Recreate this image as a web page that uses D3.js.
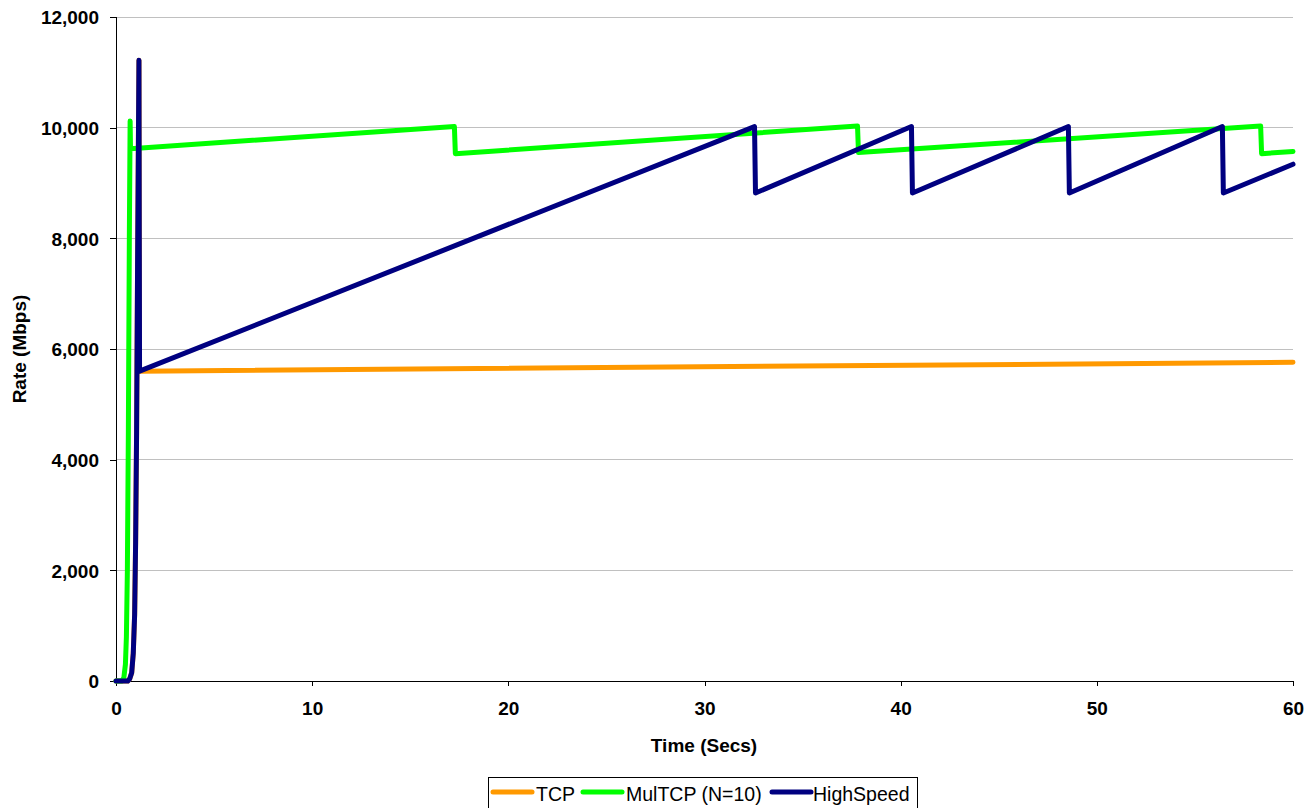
<!DOCTYPE html>
<html>
<head>
<meta charset="utf-8">
<script src="https://cdn.jsdelivr.net/npm/d3@7"></script>
<style>
  body { margin: 0; background: #fff; }
  svg { display: block; font-family: Arial, "Liberation Sans", sans-serif; }
</style>
</head>
<body>
<svg id="chart" width="1315" height="808"></svg>
<script>
// ---- Data (time in seconds, rate in Mbps) ----
const seriesNames = ["TCP", "MulTCP (N=10)", "HighSpeed"];

const tcpTime  = [0, 0.6, 0.7, 0.8, 0.88, 0.95, 1.0, 1.05, 1.1, 1.17, 1.2, 60];
const tcpRate  = [0, 0, 40, 150, 500, 1200, 2500, 4500, 7500, 11220, 5600, 5760];

const mulTime  = [0, 0.3, 0.4, 0.48, 0.53, 0.58, 0.63, 0.68, 0.72, 0.74, 17.25, 17.3, 37.8, 37.85, 58.35, 58.4, 60];
const mulRate  = [0, 0, 60, 300, 800, 2000, 4500, 8000, 10120, 9620, 10020, 9530, 10030, 9550, 10030, 9530, 9570];

const hsTime   = [0, 0.6, 0.7, 0.8, 0.88, 0.95, 1.0, 1.05, 1.1, 1.17, 1.2, 32.55, 32.6, 40.55, 40.6, 48.55, 48.6, 56.4, 56.45, 60];
const hsRate   = [0, 0, 40, 150, 500, 1200, 2500, 4500, 7500, 11220, 5600, 10020, 8820, 10020, 8820, 10020, 8820, 10020, 8820, 9340];

const xTicks = [0, 10, 20, 30, 40, 50, 60];
const yTicks = [0, 2000, 4000, 6000, 8000, 10000, 12000];
const colors = ["#FF9900", "#00FF00", "#000080"];

// ---- Layout ----
const svg = d3.select("#chart");
const pLeft = 116, pRight = 1293, pTop = 17, pBottom = 681;
const FONT = "Arial, 'Liberation Sans', sans-serif";

const x = d3.scaleLinear().domain([0, 60]).range([pLeft, pRight]);
const y = d3.scaleLinear().domain([0, 12000]).range([pBottom, pTop]);

// gridlines
svg.append("g")
  .selectAll("line")
  .data(yTicks.filter(d => d > 0))
  .join("line")
  .attr("x1", pLeft).attr("x2", pRight)
  .attr("y1", d => y(d)).attr("y2", d => y(d))
  .attr("stroke", "#c0c0c0").attr("stroke-width", 1)
  .attr("shape-rendering", "crispEdges");

// axes
const yAxis = d3.axisLeft(y).tickValues(yTicks).tickSize(6).tickPadding(11)
  .tickFormat(d3.format(","));
const gy = svg.append("g").attr("transform", `translate(${pLeft},0)`).call(yAxis);
const xAxis = d3.axisBottom(x).tickValues(xTicks).tickSize(5).tickPadding(16)
  .tickFormat(d3.format("d"));
const gx = svg.append("g").attr("transform", `translate(0,${pBottom})`).call(xAxis);

[gx, gy].forEach(g => {
  g.attr("font-family", FONT).attr("font-size", 19);
  g.select(".domain").attr("stroke", "#000").attr("shape-rendering", "crispEdges");
  g.selectAll(".tick line").attr("stroke", "#000").attr("shape-rendering", "crispEdges");
  g.selectAll(".tick text")
    .attr("fill", "#000")
    .style("font-size", "19px")
    .style("font-weight", "bold")
    .style("font-family", FONT);
});
gy.selectAll(".tick text").attr("dy", "0.36em");
gx.selectAll(".tick text").attr("dy", "0.71em");
gy.select(".domain").attr("d", `M0,${pBottom}V${pTop}`);
gx.select(".domain").attr("d", `M${pLeft},0H${pRight}`);

// axis titles
svg.append("text")
  .attr("x", 704).attr("y", 752)
  .attr("text-anchor", "middle")
  .style("font-family", FONT)
  .style("font-size", "19px").style("font-weight", "bold")
  .text("Time (Secs)");
svg.append("text")
  .attr("transform", `translate(26,${(pTop + pBottom) / 2}) rotate(-90)`)
  .attr("text-anchor", "middle")
  .style("font-family", FONT)
  .style("font-size", "19px").style("font-weight", "bold")
  .text("Rate (Mbps)");

// lines
const series = [
  { name: seriesNames[0], t: tcpTime, v: tcpRate, color: colors[0] },
  { name: seriesNames[1], t: mulTime, v: mulRate, color: colors[1] },
  { name: seriesNames[2], t: hsTime,  v: hsRate,  color: colors[2] }
];
const line = d3.line().x(d => x(d[0])).y(d => y(d[1]));
const plot = svg.append("g");
series.forEach(s => {
  const pts = s.t.map((t, i) => [t, s.v[i]]);
  plot.append("path")
    .datum(pts)
    .attr("d", line)
    .attr("fill", "none")
    .attr("stroke", s.color)
    .attr("stroke-width", 5)
    .attr("stroke-linejoin", "round")
    .attr("stroke-linecap", "round");
});

// legend
const legend = svg.append("g");
legend.append("rect")
  .attr("x", 488.5).attr("y", 777.5).attr("width", 429).attr("height", 34)
  .attr("fill", "#fff").attr("stroke", "#000").attr("stroke-width", 1);
const legLineX = [493, 583, 772];
const legTextX = [536, 626, 813];
series.forEach((s, i) => {
  legend.append("line")
    .attr("x1", legLineX[i]).attr("x2", legLineX[i] + 39)
    .attr("y1", 792).attr("y2", 792)
    .attr("stroke", s.color).attr("stroke-width", 5)
    .attr("stroke-linecap", "round");
  legend.append("text")
    .attr("x", legTextX[i]).attr("y", 801)
    .style("font-family", FONT)
    .style("font-size", "19.5px")
    .attr("fill", "#000")
    .text(s.name);
});
</script>
</body>
</html>
